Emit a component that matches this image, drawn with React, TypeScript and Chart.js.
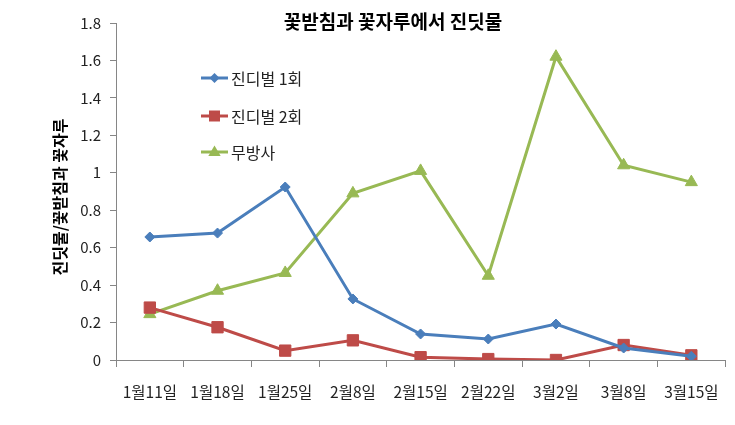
import React, { useEffect, useRef } from "react";
import { Chart, registerables } from "chart.js";

Chart.register(...registerables);

const categories = ["1월11일", "1월18일", "1월25일", "2월8일", "2월15일", "2월22일", "3월2일", "3월8일", "3월15일"];
const series1 = [0.657, 0.678, 0.924, 0.326, 0.139, 0.112, 0.192, 0.064, 0.02];
const series2 = [0.28, 0.175, 0.05, 0.105, 0.015, 0.005, 0.0, 0.08, 0.025];
const series3 = [0.245, 0.37, 0.465, 0.89, 1.01, 0.45, 1.62, 1.04, 0.95];
const seriesNames = ["진디벌 1회", "진디벌 2회", "무방사"];
const seriesColors = ["#4A7EBB", "#BE4B48", "#98B954"];
const chartTitle = "꽃받침과 꽃자루에서 진딧물";
const yTitle = "진딧물/꽃받침과 꽃자루";

const FONT = "'Noto Sans CJK KR', 'Noto Sans', sans-serif";

function drawMarker(ctx: CanvasRenderingContext2D, kind: string, x: number, y: number, color: string) {
  ctx.save();
  ctx.fillStyle = color;
  ctx.beginPath();
  if (kind === "diamond") {
    const r = 5;
    ctx.moveTo(x, y - r);
    ctx.lineTo(x + r, y);
    ctx.lineTo(x, y + r);
    ctx.lineTo(x - r, y);
  } else if (kind === "square") {
    const s = 5.5;
    ctx.rect(x - s, y - s, 2 * s, 2 * s);
  } else {
    const r = 6.5;
    ctx.moveTo(x, y - r);
    ctx.lineTo(x + r * 0.95, y + r * 0.6);
    ctx.lineTo(x - r * 0.95, y + r * 0.6);
  }
  ctx.closePath();
  ctx.fill();
  ctx.restore();
}

const overlayPlugin = {
  id: "overlay",
  afterDraw(chart: any) {
    const ctx: CanvasRenderingContext2D = chart.ctx;
    ctx.save();
    // title
    ctx.fillStyle = "#000";
    ctx.font = `bold 19px ${FONT}`;
    ctx.textAlign = "center";
    ctx.textBaseline = "middle";
    ctx.fillText(chartTitle, 393, 22);
    // y title
    ctx.save();
    ctx.translate(60, 197);
    ctx.rotate(-Math.PI / 2);
    ctx.font = `bold 16px ${FONT}`;
    ctx.fillText(yTitle, 0, 0);
    ctx.restore();
    // legend
    const rows = [78, 116, 152];
    const kinds = ["diamond", "square", "triangle"];
    ctx.font = `16px ${FONT}`;
    ctx.textAlign = "left";
    ctx.textBaseline = "middle";
    for (let i = 0; i < seriesNames.length; i++) {
      const y = rows[i];
      ctx.strokeStyle = seriesColors[i];
      ctx.lineWidth = 3;
      ctx.beginPath();
      ctx.moveTo(201, y);
      ctx.lineTo(228, y);
      ctx.stroke();
      drawMarker(ctx, kinds[i], 214.5, y, seriesColors[i]);
      ctx.fillStyle = "#222";
      ctx.fillText(seriesNames[i], 231, y + 1);
    }
    ctx.restore();
  },
};

export default function App() {
  const canvasRef = useRef<HTMLCanvasElement | null>(null);

  useEffect(() => {
    document.body.style.margin = "0";
    const canvas = canvasRef.current;
    if (!canvas) return;
    Chart.defaults.font.family = FONT;
    const chart = new Chart(canvas, {
      type: "line",
      data: {
        labels: categories,
        datasets: [
          {
            label: seriesNames[0],
            data: series1,
            borderColor: seriesColors[0],
            backgroundColor: seriesColors[0],
            borderWidth: 3,
            pointStyle: "rectRot",
            pointRadius: 5,
            pointBorderWidth: 1,
            tension: 0,
          },
          {
            label: seriesNames[1],
            data: series2,
            borderColor: seriesColors[1],
            backgroundColor: seriesColors[1],
            borderWidth: 3,
            pointStyle: "rect",
            pointRadius: 8,
            pointBorderWidth: 1,
            tension: 0,
          },
          {
            label: seriesNames[2],
            data: series3,
            borderColor: seriesColors[2],
            backgroundColor: seriesColors[2],
            borderWidth: 3,
            pointStyle: "triangle",
            pointRadius: 7,
            pointBorderWidth: 1,
            tension: 0,
          },
        ],
      },
      options: {
        animation: false,
        responsive: false,
        maintainAspectRatio: false,
        layout: { padding: { top: 23, right: 8, left: 0, bottom: 0 } },
        plugins: {
          legend: { display: false },
          title: { display: false },
          tooltip: { enabled: false },
        },
        scales: {
          x: {
            type: "category",
            offset: true,
            grid: {
              offset: true,
              drawOnChartArea: false,
              drawTicks: true,
              tickLength: 7,
              color: "#868686",
            },
            border: { display: true, color: "#868686", width: 1 },
            ticks: {
              color: "#222",
              font: { size: 15.5, family: FONT },
              padding: 16,
              maxRotation: 0,
              minRotation: 0,
              autoSkip: false,
            },
            afterFit: (scale: any) => {
              scale.height = 65;
            },
          },
          y: {
            min: 0,
            max: 1.8,
            grid: {
              drawOnChartArea: false,
              drawTicks: true,
              tickLength: 6,
              color: "#868686",
            },
            border: { display: true, color: "#868686", width: 1 },
            ticks: {
              stepSize: 0.2,
              color: "#222",
              font: { size: 15, family: FONT },
              padding: 9,
              callback: (v: any) => String(Math.round(Number(v) * 10) / 10),
            },
            afterFit: (scale: any) => {
              scale.width = 116;
            },
          },
        },
      },
      plugins: [overlayPlugin],
    });
    return () => chart.destroy();
  }, []);

  return (
    <div style={{ width: 735, height: 425, background: "#fff" }}>
      <canvas ref={canvasRef} width={735} height={425} style={{ display: "block" }} />
    </div>
  );
}
